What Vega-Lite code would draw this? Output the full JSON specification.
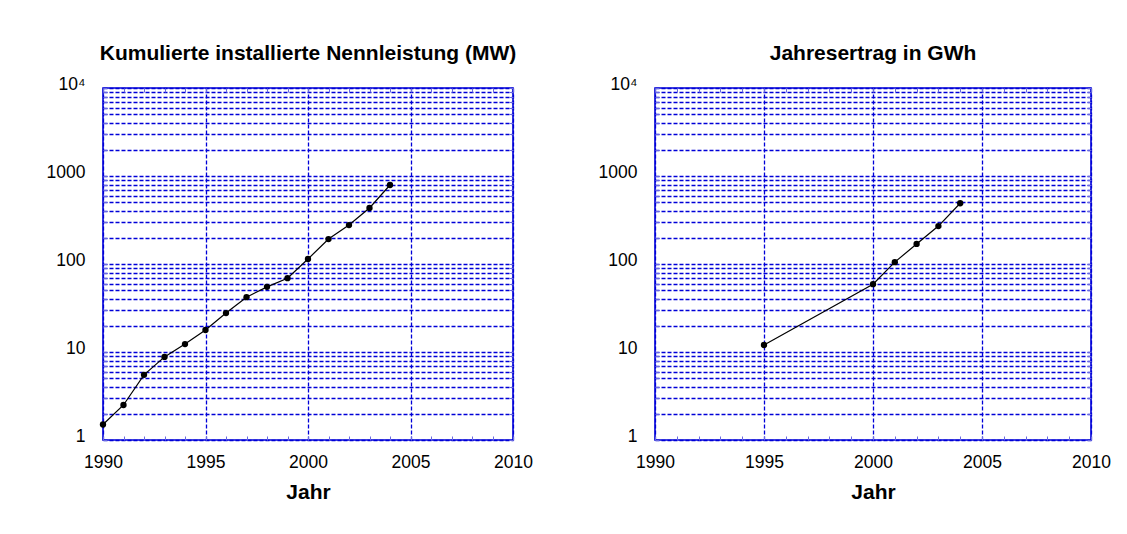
{
  "$schema": "https://vega.github.io/schema/vega-lite/v6.json",
  "background": "white",
  "padding": {"left": 45, "top": 42, "right": 5, "bottom": 5},
  "spacing": 63,
  "config": {
    "font": "Liberation Sans",
    "view": {"stroke": "#0000d8", "strokeWidth": 1.6},
    "title": {"fontSize": 21, "fontWeight": "bold", "color": "black", "anchor": "middle", "offset": 11},
    "axis": {
      "labelFont": "Liberation Sans",
      "labelFontSize": 17.5,
      "labelColor": "black",
      "titleFont": "Liberation Sans",
      "titleFontSize": 21,
      "titleFontWeight": "bold",
      "titleColor": "black",
      "gridColor": "#0000d8",
      "gridDash": [4, 2],
      "gridWidth": 1.3,
      "gridOpacity": 1,
      "tickColor": "#6a6ae0",
      "domain": false,
      "labelOverlap": false,
      "labelBound": false,
      "labelFlush": false
    }
  },
  "datasets": {
    "mw": [
      {"Jahr": 1990, "Wert": 1.5},
      {"Jahr": 1991, "Wert": 2.5},
      {"Jahr": 1992, "Wert": 5.5},
      {"Jahr": 1993, "Wert": 8.8},
      {"Jahr": 1994, "Wert": 12.3},
      {"Jahr": 1995, "Wert": 17.8},
      {"Jahr": 1996, "Wert": 27.7},
      {"Jahr": 1997, "Wert": 42},
      {"Jahr": 1998, "Wert": 55},
      {"Jahr": 1999, "Wert": 69},
      {"Jahr": 2000, "Wert": 114},
      {"Jahr": 2001, "Wert": 192},
      {"Jahr": 2002, "Wert": 277},
      {"Jahr": 2003, "Wert": 433},
      {"Jahr": 2004, "Wert": 790}
    ],
    "gwh": [
      {"Jahr": 1995, "Wert": 12},
      {"Jahr": 2000, "Wert": 59},
      {"Jahr": 2001, "Wert": 105},
      {"Jahr": 2002, "Wert": 169},
      {"Jahr": 2003, "Wert": 270},
      {"Jahr": 2004, "Wert": 490}
    ]
  },
  "hconcat": [
    {
      "width": 410,
      "height": 352,
      "title": "Kumulierte installierte Nennleistung (MW)",
      "data": {"name": "mw"},
      "resolve": {"axis": {"x": "independent", "y": "independent"}},
      "layer": [
        {
          "mark": {"type": "line", "color": "black", "strokeWidth": 1.2},
          "encoding": {
            "x": {
              "field": "Jahr", "type": "quantitative",
              "scale": {"domain": [1990, 2010], "nice": false, "zero": false},
              "axis": {
                "orient": "bottom",
                "values": [1990,1991,1992,1993,1994,1995,1996,1997,1998,1999,2000,2001,2002,2003,2004,2005,2006,2007,2008,2009,2010],
                "labelExpr": "datum.value % 5 == 0 ? datum.value + '' : ''",
                "tickSize": -4,
                "labelPadding": 17,
                "gridOpacity": {"condition": {"test": "datum.value % 5 == 0", "value": 1}, "value": 0},
                "title": "Jahr",
                "titlePadding": 11
              }
            },
            "y": {
              "field": "Wert", "type": "quantitative",
              "scale": {"type": "log", "domain": [1, 10000], "nice": false},
              "axis": {
                "orient": "left",
                "values": [1,2,3,4,5,6,7,8,9,10,20,30,40,50,60,70,80,90,100,200,300,400,500,600,700,800,900,1000,2000,3000,4000,5000,6000,7000,8000,9000,10000],
                "labelExpr": "datum.value == 10000 ? '10⁴' : datum.value == 1000 ? '1000' : datum.value == 100 ? '100' : datum.value == 10 ? '10' : datum.value == 1 ? '1' : ''",
                "tickSize": -4,
                "labelPadding": 22,
                "labelOffset": -4,
                "title": null
              }
            }
          }
        },
        {
          "mark": {"type": "point", "filled": true, "color": "black", "size": 40, "opacity": 1},
          "encoding": {
            "x": {
              "field": "Jahr", "type": "quantitative",
              "scale": {"domain": [1990, 2010], "nice": false, "zero": false},
              "axis": {
                "orient": "top",
                "values": [1990,1991,1992,1993,1994,1995,1996,1997,1998,1999,2000,2001,2002,2003,2004,2005,2006,2007,2008,2009,2010],
                "labels": false, "grid": false, "tickSize": -4, "title": null
              }
            },
            "y": {
              "field": "Wert", "type": "quantitative",
              "scale": {"type": "log", "domain": [1, 10000], "nice": false},
              "axis": {
                "orient": "right",
                "values": [1,2,3,4,5,6,7,8,9,10,20,30,40,50,60,70,80,90,100,200,300,400,500,600,700,800,900,1000,2000,3000,4000,5000,6000,7000,8000,9000,10000],
                "labels": false, "grid": false, "tickSize": -4, "title": null
              }
            }
          }
        }
      ]
    },
    {
      "width": 436,
      "height": 352,
      "title": "Jahresertrag in GWh",
      "data": {"name": "gwh"},
      "resolve": {"axis": {"x": "independent", "y": "independent"}},
      "layer": [
        {
          "mark": {"type": "line", "color": "black", "strokeWidth": 1.2},
          "encoding": {
            "x": {
              "field": "Jahr", "type": "quantitative",
              "scale": {"domain": [1990, 2010], "nice": false, "zero": false},
              "axis": {
                "orient": "bottom",
                "values": [1990,1991,1992,1993,1994,1995,1996,1997,1998,1999,2000,2001,2002,2003,2004,2005,2006,2007,2008,2009,2010],
                "labelExpr": "datum.value % 5 == 0 ? datum.value + '' : ''",
                "tickSize": -4,
                "labelPadding": 17,
                "gridOpacity": {"condition": {"test": "datum.value % 5 == 0", "value": 1}, "value": 0},
                "title": "Jahr",
                "titlePadding": 11
              }
            },
            "y": {
              "field": "Wert", "type": "quantitative",
              "scale": {"type": "log", "domain": [1, 10000], "nice": false},
              "axis": {
                "orient": "left",
                "values": [1,2,3,4,5,6,7,8,9,10,20,30,40,50,60,70,80,90,100,200,300,400,500,600,700,800,900,1000,2000,3000,4000,5000,6000,7000,8000,9000,10000],
                "labelExpr": "datum.value == 10000 ? '10⁴' : datum.value == 1000 ? '1000' : datum.value == 100 ? '100' : datum.value == 10 ? '10' : datum.value == 1 ? '1' : ''",
                "tickSize": -4,
                "labelPadding": 22,
                "labelOffset": -4,
                "title": null
              }
            }
          }
        },
        {
          "mark": {"type": "point", "filled": true, "color": "black", "size": 40, "opacity": 1},
          "encoding": {
            "x": {
              "field": "Jahr", "type": "quantitative",
              "scale": {"domain": [1990, 2010], "nice": false, "zero": false},
              "axis": {
                "orient": "top",
                "values": [1990,1991,1992,1993,1994,1995,1996,1997,1998,1999,2000,2001,2002,2003,2004,2005,2006,2007,2008,2009,2010],
                "labels": false, "grid": false, "tickSize": -4, "title": null
              }
            },
            "y": {
              "field": "Wert", "type": "quantitative",
              "scale": {"type": "log", "domain": [1, 10000], "nice": false},
              "axis": {
                "orient": "right",
                "values": [1,2,3,4,5,6,7,8,9,10,20,30,40,50,60,70,80,90,100,200,300,400,500,600,700,800,900,1000,2000,3000,4000,5000,6000,7000,8000,9000,10000],
                "labels": false, "grid": false, "tickSize": -4, "title": null
              }
            }
          }
        }
      ]
    }
  ]
}
